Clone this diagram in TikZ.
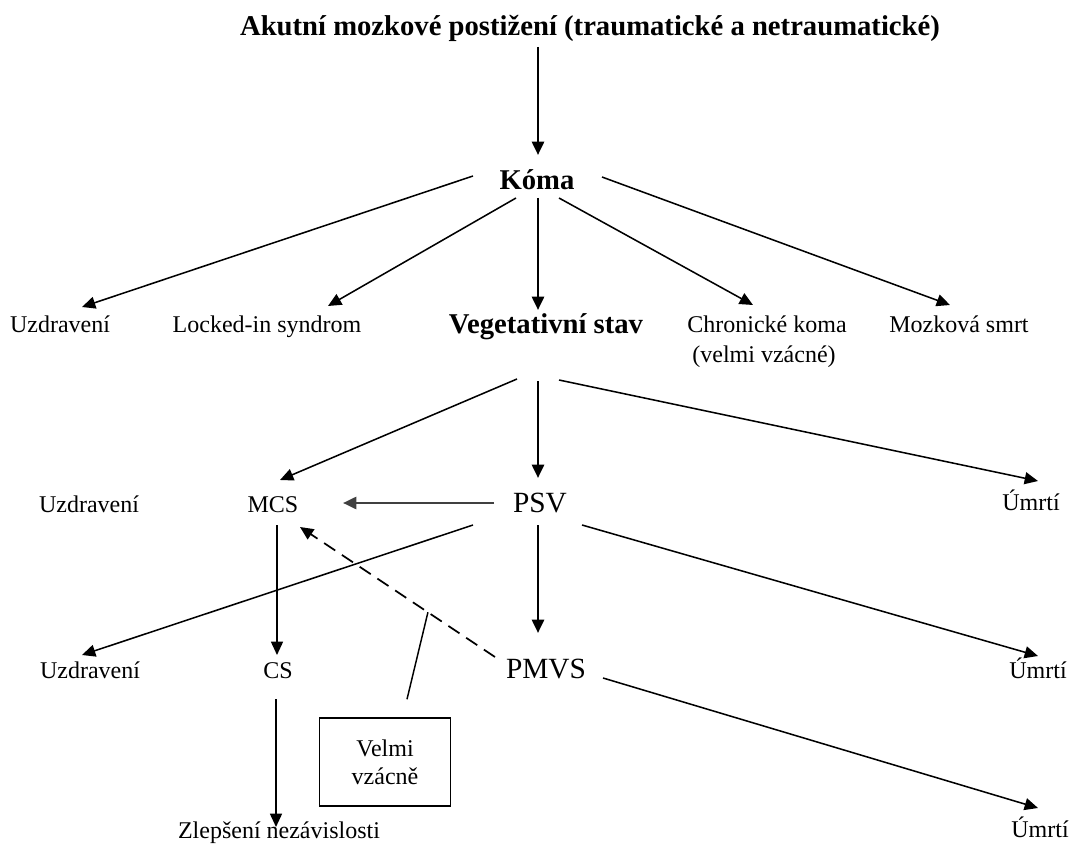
\documentclass[tikz,border=0pt]{standalone}
\usepackage{fontspec}
\setmainfont{Liberation Serif}
\usetikzlibrary{arrows.meta,calc}
\tikzset{
  lbl/.style={anchor=base,inner sep=0pt,font=\fontsize{18}{21}\selectfont},
  blbl/.style={anchor=base,inner sep=0pt,font=\fontsize{21.5}{25}\selectfont\bfseries},
  biglbl/.style={anchor=base,inner sep=0pt,font=\fontsize{22}{26}\selectfont},
  tip/.style={-{Triangle[length=10pt,width=9pt]}},
  thinarr/.style={line width=1.15pt,tip},
  thickarr/.style={line width=2pt,tip},
  dasharr/.style={line width=1.3pt,dash pattern=on 10pt off 6pt,tip},
  callout/.style={line width=1.1pt},
  notebox/.style={draw,line width=1.1pt,minimum width=98.25pt,minimum height=66pt,inner sep=0pt,align=center,font=\fontsize{18}{21}\selectfont}
}
\begin{document}
\begin{tikzpicture}[x=0.75pt,y=-0.75pt]
\useasboundingbox (0,0) rectangle (1072,845);
% nodes
\node[blbl] (title) at (590,36) {Akutní mozkové postižení (traumatické a netraumatické)};
\node[blbl] (koma) at (537,190) {Kóma};
\node[lbl] (u1) at (60,333) {Uzdravení};
\node[lbl] (locked) at (267,333) {Locked-in syndrom};
\node[blbl] (veget) at (546,334) {Vegetativní stav};
\node[lbl] (chron) at (767,333) {Chronické koma};
\node[lbl] (chron2) at (764,362) {(velmi vzácné)};
\node[lbl] (mozk) at (959,333) {Mozková smrt};
\node[lbl] (u2) at (89,512) {Uzdravení};
\node[lbl] (mcs) at (273,512) {MCS};
\node[biglbl] (psv) at (540,512) {PSV};
\node[lbl] (um1) at (1031,510) {Úmrtí};
\node[lbl] (u3) at (90,678) {Uzdravení};
\node[lbl] (cs) at (278,678) {CS};
\node[biglbl] (pmvs) at (546,678) {PMVS};
\node[lbl] (um2) at (1038,678) {Úmrtí};
\node[lbl] (zlep) at (279,838) {Zlepšení nezávislosti};
\node[lbl] (um3) at (1040,837) {Úmrtí};
\node[notebox] (box) at (385,762) {Velmi\\vzácně};
% connectors
\draw[thickarr] ($(title.base)+(-52,11)$) -- ($(koma.base)+(1,-35)$);
\draw[thinarr] ($(koma.base)+(-64,-14)$) -- ($(u1.base)+(22,-26)$);
\draw[thinarr] ($(koma.base)+(-21,8)$) -- ($(locked.base)+(61,-27)$);
\draw[thickarr] ($(koma.base)+(1,8)$) -- ($(veget.base)+(-8,-24)$);
\draw[thinarr] ($(koma.base)+(22,8)$) -- ($(chron.base)+(-14,-28)$);
\draw[thinarr] ($(koma.base)+(65,-13)$) -- ($(mozk.base)+(-9,-28)$);
\draw[thinarr] ($(veget.base)+(-29,45)$) -- ($(mcs.base)+(7,-32)$);
\draw[thickarr] ($(veget.base)+(-8,47)$) -- ($(psv.base)+(-2,-34)$);
\draw[thinarr] ($(veget.base)+(13,46)$) -- ($(um1.base)+(7,-29)$);
\draw[thickarr,draw=black!75] ($(psv.base)+(-46,-9)$) -- ($(mcs.base)+(70,-9)$);
\draw[thinarr] ($(psv.base)+(-67,13)$) -- ($(u3.base)+(-8,-23)$);
\draw[thickarr] ($(psv.base)+(-2,13)$) -- ($(pmvs.base)+(-8,-45)$);
\draw[thinarr] ($(psv.base)+(42,13)$) -- ($(um2.base)+(0,-22)$);
\draw[thinarr] ($(mcs.base)+(4,13)$) -- ($(cs.base)+(-1,-23)$);
\draw[dasharr] ($(pmvs.base)+(-51,-21)$) -- coordinate[pos=0.344] (dmid) ($(mcs.base)+(27,15)$);
\draw[callout] ($(box.north)+(22,-18)$) -- (dmid);
\draw[thinarr] ($(cs.base)+(-2,21)$) -- ($(zlep.base)+(-3,-11)$);
\draw[thinarr] ($(pmvs.base)+(57,0)$) -- ($(um3.base)+(-2,-29)$);
\end{tikzpicture}
\end{document}
